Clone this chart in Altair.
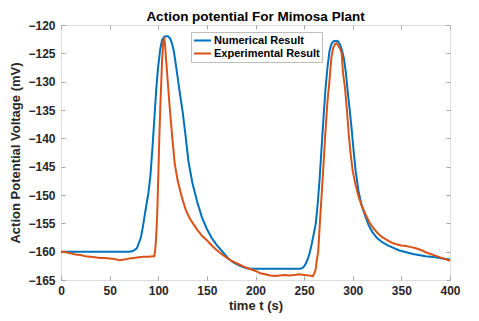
import altair as alt
import pandas as pd

# ---------------- data ----------------
series_names = ["Numerical Result", "Experimental Result"]
series_colors = ["#0072BD", "#D95319"]

t_num = [0, 70, 74, 78, 82, 84, 87, 90, 92, 94, 96, 98, 100, 102, 104, 106, 108, 110,
         112, 114, 116, 118, 120, 122, 125, 128, 131, 135, 140, 145, 150, 155, 160,
         166, 172, 178, 184, 190, 195, 246, 248, 250, 252, 254, 256, 258, 260, 262,
         264, 266, 268, 270, 272, 274, 276, 278, 280, 283, 285, 287, 289, 291, 293,
         295, 297, 299, 301, 303, 306, 309, 312, 316, 320, 325, 330, 335, 340, 348,
         355, 362, 375, 385, 392, 400]
v_num = [-160, -160, -159.9, -159.4, -157.6, -155.8, -152.6, -149.5, -146.5, -141.8,
         -136.5, -131.2, -127.2, -124.3, -122.6, -122.1, -122.0, -122.0,
         -122.3, -123.2, -124.6, -126.9, -129.3, -131.8, -135.2, -139.4, -144.0,
         -147.8, -151.2, -154.0, -156.0, -157.6, -158.8,
         -160.0, -161.2, -162.0, -162.5, -162.9, -163.0, -163.0, -162.9, -162.6,
         -162.0, -161.2, -160.0, -158.5, -156.8, -155.0,
         -151.5, -147.0, -141.5, -136.2, -131.2, -127.5, -124.7, -123.4, -122.9,
         -122.8, -122.9, -123.5, -124.5, -126.0, -128.5,
         -132.0, -135.2, -138.6, -142.4, -145.8, -149.4, -151.7, -153.3, -155.2,
         -156.5, -157.6, -158.3, -158.8, -159.2, -159.8,
         -160.1, -160.4, -160.8, -161.0, -161.2, -161.4]

t_exp = [0, 5, 10, 15, 20, 25, 30, 35, 40, 45, 50, 55, 60, 65, 70, 75, 80, 85, 90,
         95, 96, 97, 98, 99, 100, 101, 102, 103, 104, 105, 106, 107, 108, 110, 112,
         114.5, 117, 120, 124, 128, 132, 136, 140, 145, 150, 155, 160, 165, 170, 175,
         180, 185, 190, 195, 200, 205, 210, 215, 220, 225, 230, 235, 240, 245, 250,
         255, 259, 261, 262, 263, 264.5, 266, 268, 270, 271.5, 274, 276, 278, 280,
         282, 283.5, 285, 287, 288.6, 290, 292, 294, 296, 298, 300, 303, 306, 309,
         312, 315, 318, 322, 326, 330, 335, 340, 345, 350, 355, 360, 365, 370, 375,
         380, 385, 390, 395, 400]
v_exp = [-160.0, -160.1, -160.3, -160.5, -160.6, -160.8, -160.9, -161.0, -161.1,
         -161.1, -161.2, -161.3, -161.5, -161.4, -161.2, -161.1, -161.0, -160.9,
         -160.9, -160.8, -160.8, -159.5, -157.0, -153.0, -147.0, -140.5, -135.0,
         -130.5, -126.0, -123.3, -122.2, -123.5, -126.0, -130.5, -135.0,
         -140.0, -144.5, -147.5, -150.2, -152.5, -154.0, -155.1, -156.1, -157.2,
         -158.0, -158.9, -159.7, -160.4, -161.0, -161.6,
         -162.0, -162.4, -162.8, -163.1, -163.4, -163.8, -164.0, -164.2, -164.3,
         -164.2, -164.1, -164.2, -164.1, -164.0, -164.1,
         -164.2, -164.3, -163.6, -163.0, -161.5, -160.0, -155.5, -150.0, -144.5,
         -140.0, -133.5, -130.0, -125.7, -124.0,
         -123.3, -123.2, -123.6, -124.2, -125.0, -128.5, -131.0, -135.0, -139.5,
         -143.0, -145.8, -148.3, -150.3, -151.8,
         -153.0, -154.1, -155.1, -156.0, -156.8, -157.4, -157.9, -158.4, -158.7,
         -158.9, -159.0, -159.2, -159.4, -159.7, -160.1,
         -160.4, -160.7, -161.0, -161.3, -161.6]

x_ticks = [0, 50, 100, 150, 200, 250, 300, 350, 400]
y_ticks = [-165, -160, -155, -150, -145, -140, -135, -130, -125, -120]

df = pd.concat([
    pd.DataFrame({"t": t_num, "v": v_num, "series": series_names[0]}),
    pd.DataFrame({"t": t_exp, "v": v_exp, "series": series_names[1]}),
], ignore_index=True)

# ---------------- styling ----------------
W, H = 389, 255
FONT = "Liberation Sans"
LABEL_C = "#262626"
BOX_C = "#a6a6a6"

xscale = alt.Scale(domain=[0, 400], nice=False, zero=False)
yscale = alt.Scale(domain=[-165, -120], nice=False, zero=False)

color = alt.Color(
    "series:N",
    scale=alt.Scale(domain=series_names, range=series_colors),
    legend=alt.Legend(
        title=None, orient="none", legendX=130, legendY=7, direction="vertical",
        symbolType="stroke", symbolSize=289, symbolStrokeWidth=2,
        labelFont=FONT, labelFontSize=11, labelFontWeight="bold", labelColor="#000000",
        fillColor="white", strokeColor="#bdbdbd", padding=2, rowPadding=0,
        labelOffset=2, clipHeight=13,
    ),
)

main_x = alt.Axis(values=x_ticks, title="time t (s)", ticks=False, domain=False,
                  grid=False, labelFlush=False, labelFont=FONT, labelFontSize=12,
                  labelFontWeight="bold", labelColor=LABEL_C, labelPadding=5,
                  titleFont=FONT, titleFontSize=13, titleFontWeight="bold",
                  titleColor=LABEL_C, titlePadding=3)
main_y = alt.Axis(values=y_ticks, title="Action Potential Voltage (mV)", ticks=False,
                  domain=False, grid=False, labelFlush=False, labelFont=FONT,
                  labelFontSize=12, labelFontWeight="bold", labelColor=LABEL_C,
                  labelPadding=6, titleFont=FONT, titleFontSize=13,
                  titleFontWeight="bold", titleColor=LABEL_C, titlePadding=5)


def tick_axis(orient, offset, vals):
    return alt.Axis(orient=orient, offset=offset, values=vals, labels=False,
                    domain=False, grid=False, ticks=True, tickSize=4,
                    tickColor=BOX_C, tickWidth=1, title=None)


base = alt.Chart(df)

num = base.transform_filter(alt.datum.series == series_names[0]).mark_line(
    strokeWidth=2).encode(
    x=alt.X("t:Q", scale=xscale, axis=main_x),
    y=alt.Y("v:Q", scale=yscale, axis=main_y),
    color=color,
)
exp = base.transform_filter(alt.datum.series == series_names[1]).mark_line(
    strokeWidth=2).encode(
    x=alt.X("t:Q", scale=xscale, axis=main_x),
    y=alt.Y("v:Q", scale=yscale, axis=main_y),
    color=color,
)
lines = alt.layer(num, exp)

ticks_a = base.mark_line(opacity=0).encode(
    x=alt.X("t:Q", scale=xscale, axis=tick_axis("top", -H, x_ticks)),
    y=alt.Y("v:Q", scale=yscale, axis=tick_axis("right", -W, y_ticks)),
)
ticks_b = base.mark_line(opacity=0).encode(
    x=alt.X("t:Q", scale=xscale, axis=tick_axis("bottom", -H, x_ticks)),
    y=alt.Y("v:Q", scale=yscale, axis=tick_axis("left", -W, y_ticks)),
)

chart = alt.layer(lines, ticks_a, ticks_b).resolve_axis(
    x="independent", y="independent"
).properties(
    width=W, height=H,
    title=alt.Title("Action potential For Mimosa Plant", font=FONT, fontSize=13.5,
                    fontWeight="bold", color="#000000", anchor="middle", offset=-4),
    autosize=alt.AutoSizeParams(type="none"),
    padding={"left": 53, "top": 17, "right": 21, "bottom": 33},
).configure_view(stroke=BOX_C, strokeWidth=1).configure(background="white")

chart.save("out.html", embed_options={"renderer": "svg", "actions": False})
